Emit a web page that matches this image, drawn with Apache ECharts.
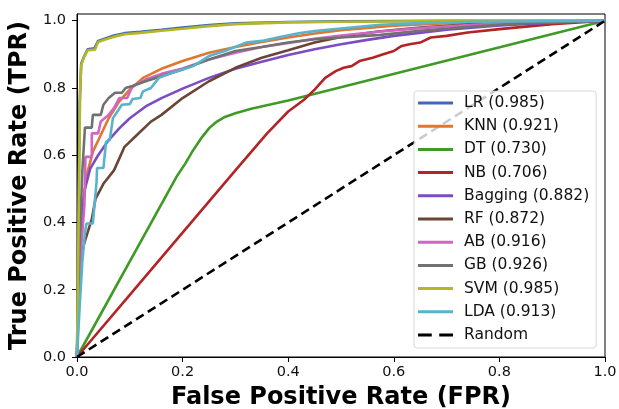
<!DOCTYPE html>
<html>
<head>
<meta charset="utf-8">
<script src="https://cdn.jsdelivr.net/npm/echarts@6/dist/echarts.min.js"></script>
<style>
  html, body { margin: 0; padding: 0; background: #fff; }
  #chart { width: 619px; height: 409px; }
</style>
</head>
<body>
<div id="chart"></div>
<script>
// ROC points [fpr, tpr]
var lrPts = [[0,0],[0.002,0.3],[0.005,0.75],[0.008,0.872],[0.013,0.892],[0.02,0.915],[0.033,0.918],[0.04,0.94],[0.055,0.948],[0.07,0.956],[0.09,0.963],[0.12,0.967],[0.16,0.973],[0.2,0.98],[0.25,0.987],[0.3,0.992],[0.4,0.996],[0.5,0.998],[0.7,1],[1,1]];
var knnPts = [[0,0],[0.005,0.3],[0.01,0.45],[0.02,0.55],[0.03,0.61],[0.045,0.66],[0.06,0.71],[0.08,0.76],[0.1,0.795],[0.125,0.83],[0.16,0.857],[0.2,0.88],[0.25,0.905],[0.3,0.922],[0.35,0.937],[0.4,0.95],[0.45,0.962],[0.5,0.972],[0.6,0.985],[0.7,0.993],[0.8,0.997],[1,1]];
var dtPts = [[0,0],[0.19,0.54],[0.205,0.575],[0.22,0.615],[0.235,0.65],[0.25,0.68],[0.265,0.7],[0.28,0.714],[0.3,0.725],[0.33,0.738],[0.4,0.763],[1,1]];
var nbPts = [[0,0],[0.1,0.185],[0.2,0.37],[0.3,0.555],[0.36,0.665],[0.4,0.73],[0.43,0.765],[0.45,0.795],[0.47,0.83],[0.49,0.85],[0.505,0.86],[0.52,0.865],[0.535,0.88],[0.56,0.89],[0.58,0.9],[0.6,0.91],[0.615,0.925],[0.63,0.93],[0.65,0.935],[0.67,0.95],[0.7,0.955],[0.74,0.965],[0.8,0.975],[0.9,0.99],[1,1]];
var baggingPts = [[0,0],[0.003,0.25],[0.008,0.4],[0.015,0.5],[0.025,0.56],[0.04,0.6],[0.06,0.645],[0.08,0.68],[0.1,0.71],[0.13,0.745],[0.16,0.77],[0.2,0.798],[0.25,0.83],[0.3,0.857],[0.35,0.878],[0.4,0.898],[0.45,0.915],[0.5,0.93],[0.55,0.943],[0.6,0.955],[0.7,0.973],[0.8,0.986],[0.9,0.994],[1,1]];
var rfPts = [[0,0],[0.005,0.25],[0.012,0.33],[0.02,0.37],[0.028,0.41],[0.035,0.47],[0.05,0.515],[0.07,0.555],[0.08,0.59],[0.09,0.625],[0.11,0.655],[0.14,0.7],[0.16,0.72],[0.2,0.77],[0.25,0.82],[0.3,0.86],[0.35,0.89],[0.4,0.912],[0.45,0.935],[0.5,0.952],[0.57,0.968],[0.65,0.98],[0.75,0.99],[0.85,0.996],[1,1]];
var abPts = [[0,0],[0.003,0.2],[0.008,0.33],[0.014,0.45],[0.016,0.595],[0.028,0.595],[0.028,0.665],[0.04,0.665],[0.045,0.7],[0.06,0.72],[0.07,0.74],[0.08,0.77],[0.095,0.77],[0.105,0.805],[0.13,0.825],[0.16,0.842],[0.2,0.858],[0.25,0.885],[0.3,0.905],[0.35,0.922],[0.4,0.934],[0.45,0.946],[0.5,0.956],[0.575,0.968],[0.65,0.978],[0.75,0.988],[0.85,0.995],[1,1]];
var gbPts = [[0,0],[0.004,0.3],[0.01,0.55],[0.015,0.682],[0.028,0.682],[0.03,0.72],[0.045,0.72],[0.05,0.75],[0.06,0.77],[0.072,0.786],[0.085,0.786],[0.092,0.8],[0.105,0.806],[0.13,0.82],[0.16,0.835],[0.2,0.855],[0.25,0.885],[0.3,0.91],[0.35,0.922],[0.4,0.935],[0.45,0.945],[0.5,0.95],[0.575,0.958],[0.65,0.97],[0.75,0.983],[0.85,0.993],[1,1]];
var svmPts = [[0,0],[0.003,0.4],[0.006,0.8],[0.008,0.868],[0.013,0.89],[0.02,0.912],[0.034,0.914],[0.04,0.937],[0.055,0.945],[0.07,0.952],[0.09,0.96],[0.12,0.964],[0.16,0.97],[0.2,0.976],[0.25,0.984],[0.3,0.99],[0.4,0.995],[0.5,0.997],[0.7,0.999],[1,1]];
var ldaPts = [[0,0],[0.005,0.15],[0.01,0.28],[0.015,0.37],[0.018,0.397],[0.03,0.397],[0.033,0.45],[0.037,0.52],[0.038,0.562],[0.05,0.562],[0.055,0.64],[0.062,0.645],[0.068,0.71],[0.085,0.75],[0.1,0.752],[0.105,0.767],[0.12,0.77],[0.125,0.79],[0.14,0.8],[0.155,0.83],[0.18,0.845],[0.2,0.855],[0.22,0.865],[0.25,0.895],[0.28,0.91],[0.32,0.935],[0.35,0.94],[0.38,0.95],[0.42,0.963],[0.45,0.969],[0.5,0.977],[0.575,0.988],[0.65,0.993],[0.75,0.997],[1,1]];
var randomPts = [[0,0],[1,1]];

var modelNames = ['LR (0.985)', 'KNN (0.921)', 'DT (0.730)', 'NB (0.706)', 'Bagging (0.882)', 'RF (0.872)', 'AB (0.916)', 'GB (0.926)', 'SVM (0.985)', 'LDA (0.913)'];
var modelPts = [lrPts, knnPts, dtPts, nbPts, baggingPts, rfPts, abPts, gbPts, svmPts, ldaPts];
var modelColors = ['#4069b8', '#de772f', '#3f9a26', '#b32426', '#7b4cc2', '#6d4537', '#cf66c4', '#717171', '#b4b726', '#58b4cd'];
var tickValues = [0, 0.2, 0.4, 0.6, 0.8, 1.0];

var myChart = echarts.init(document.getElementById('chart'));

var series = modelNames.map(function (name, i) {
    return {
        name: name,
        type: 'line',
        showSymbol: false,
        symbol: 'none',
        data: modelPts[i],
        lineStyle: { color: modelColors[i], width: 2.6 },
        itemStyle: { color: modelColors[i] }
    };
});
series.push({
    name: 'Random',
    type: 'line',
    showSymbol: false,
    symbol: 'none',
    data: randomPts,
    lineStyle: { color: '#000', width: 2.6, type: [9, 5] },
    itemStyle: { color: '#000' }
});

// legend items: plain bars, dashed bar for the random line
var legendData = modelNames.map(function (name) {
    return { name: name, icon: 'rect' };
});
legendData.push({ name: 'Random', icon: 'path://M0,0h13v3h-13z M20,0h13v3h-13z' });

var labelStyle = { fontFamily: 'DejaVu Sans', fontSize: 14.5, color: '#111' };

var option = {
    animation: false,
    grid: {
        left: 77,
        right: 14,
        top: 14,
        bottom: 52,
        containLabel: false,
        outerBoundsMode: 'none',
        show: true,
        borderColor: '#000',
        borderWidth: 1
    },
    legend: {
        orient: 'vertical',
        left: 414,
        top: 91,
        padding: [4, 7, 5, 4],
        itemWidth: 35,
        itemHeight: 3,
        itemGap: 7.2,
        symbolKeepAspect: false,
        backgroundColor: 'rgba(255,255,255,0.8)',
        borderColor: 'rgba(204,204,204,0.8)',
        borderWidth: 1,
        borderRadius: 3,
        textStyle: { fontFamily: 'DejaVu Sans', fontSize: 15.5, lineHeight: 16, color: '#111', padding: [0, 0, 0, 6] },
        data: legendData
    },
    xAxis: {
        type: 'value',
        min: 0,
        max: 1,
        interval: 0.2,
        name: 'False Positive Rate (FPR)',
        nameLocation: 'middle',
        nameGap: 29,
        nameTextStyle: { fontFamily: 'DejaVu Sans', fontSize: 24, fontWeight: 'bold', color: '#000' },
        axisLine: { show: true, lineStyle: { color: '#000', width: 1 } },
        axisTick: { show: true, length: 5, lineStyle: { color: '#000' } },
        splitLine: { show: false },
        axisLabel: Object.assign({ margin: 8, formatter: function (v) { return v.toFixed(1); } }, labelStyle)
    },
    yAxis: {
        type: 'value',
        min: 0,
        max: 1.02,
        name: 'True Positive Rate (TPR)',
        nameLocation: 'middle',
        nameGap: 34,
        nameTextStyle: { fontFamily: 'DejaVu Sans', fontSize: 24, fontWeight: 'bold', color: '#000' },
        axisLine: { show: true, lineStyle: { color: '#000', width: 1 } },
        axisTick: { show: true, length: 5, customValues: tickValues, lineStyle: { color: '#000' } },
        splitLine: { show: false },
        axisLabel: Object.assign({ margin: 11, customValues: tickValues, formatter: function (v) { return v.toFixed(1); } }, labelStyle)
    },
    series: series
};

myChart.setOption(option);
</script>
</body>
</html>
